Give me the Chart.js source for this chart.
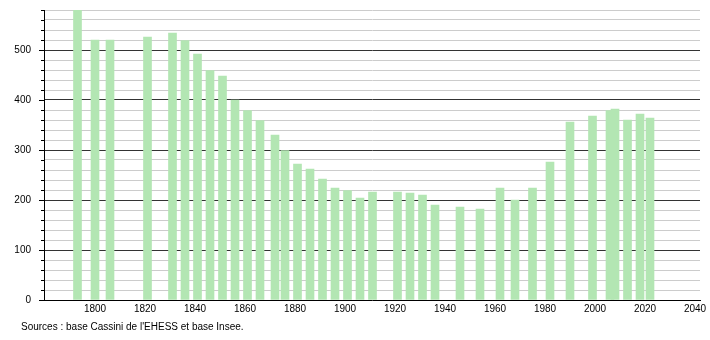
<!DOCTYPE html>
<html>
<head>
<meta charset="utf-8">
<script src="https://cdn.jsdelivr.net/npm/chart.js@4/dist/chart.umd.min.js"></script>
<style>
  html, body { margin: 0; padding: 0; background: #fff; }
  #wrap { position: relative; width: 710px; height: 340px; }
  #source {
    position: absolute; left: 21px; top: 321px;
    font: 10px 'Liberation Sans', Arial, sans-serif; color: #000;
  }
</style>
</head>
<body>
<div id="wrap">
  <canvas id="chart" width="710" height="340"></canvas>
  <div id="source">Sources : base Cassini de l'EHESS et base Insee.</div>
</div>
<script>
// census years and population
const years = [1793, 1800, 1806, 1821, 1831, 1836, 1841, 1846, 1851, 1856,
  1861, 1866, 1872, 1876, 1881, 1886, 1891, 1896, 1901, 1906,
  1911, 1921, 1926, 1931, 1936, 1946, 1954, 1962, 1968, 1975,
  1982, 1990, 1999, 2006, 2008, 2013, 2018, 2022];
const population = [580, 520, 520, 526, 534, 519, 492, 459, 448, 400,
  379, 359, 330, 299, 272, 262, 242, 224, 219, 204,
  216, 216, 214, 210, 190, 186, 182, 224, 200, 224,
  276, 356, 368, 379, 382, 360, 372, 364];
const xTicks = [1800, 1820, 1840, 1860, 1880, 1900, 1920, 1940, 1960, 1980, 2000, 2020, 2040];

const font = { family: "'Liberation Sans', Arial, sans-serif", size: 10 };

// small tick marks on the left of the y axis (long ones every 100)
const yTickMarks = {
  id: 'yTickMarks',
  afterDraw(chart) {
    const { ctx, scales: { y } } = chart;
    ctx.save();
    ctx.strokeStyle = '#000';
    ctx.lineWidth = 1;
    y.ticks.forEach(t => {
      const py = Math.round(y.getPixelForValue(t.value)) + 0.5;
      const len = t.value % 100 === 0 ? 5 : 3;
      ctx.beginPath();
      ctx.moveTo(y.right - len, py);
      ctx.lineTo(y.right, py);
      ctx.stroke();
    });
    ctx.restore();
  }
};

new Chart(document.getElementById('chart'), {
  type: 'bar',
  data: {
    datasets: [{
      data: years.map((x, i) => ({ x: x, y: population[i] })),
      backgroundColor: '#b3e6b3',
      borderWidth: 0,
      barThickness: 8,
    }],
  },
  options: {
    responsive: false,
    devicePixelRatio: 1,
    animation: false,
    layout: { padding: { top: 10, right: 10, left: 0, bottom: 0 } },
    plugins: { legend: { display: false }, tooltip: { enabled: false } },
    scales: {
      x: {
        type: 'linear',
        offset: false,
        min: 1779.6,
        max: 2042,
        afterBuildTicks: s => { s.ticks = xTicks.map(v => ({ value: v })); },
        afterFit: s => { s.height = 40; },
        grid: { display: false, drawTicks: false, offset: false },
        border: { display: true, color: '#000', width: 1 },
        ticks: { font: font, color: '#000', padding: 3, maxRotation: 0, autoSkip: false,
          callback: v => String(v) },
      },
      y: {
        min: 0,
        max: 580,
        afterFit: s => { s.width = 44; },
        grid: {
          drawTicks: true,
          tickLength: 10,
          tickColor: 'rgba(0,0,0,0)',
          color: c => (c.tick && c.tick.value % 100 === 0 && c.tick.value > 0) ? '#333' : '#cccccc',
        },
        border: { display: true, color: '#000', width: 1 },
        ticks: {
          stepSize: 20,
          autoSkip: false,
          font: font,
          color: '#000',
          padding: 3,
          callback: v => (v % 100 === 0 ? String(v) : ''),
        },
      },
    },
  },
  plugins: [yTickMarks],
});
</script>
</body>
</html>
